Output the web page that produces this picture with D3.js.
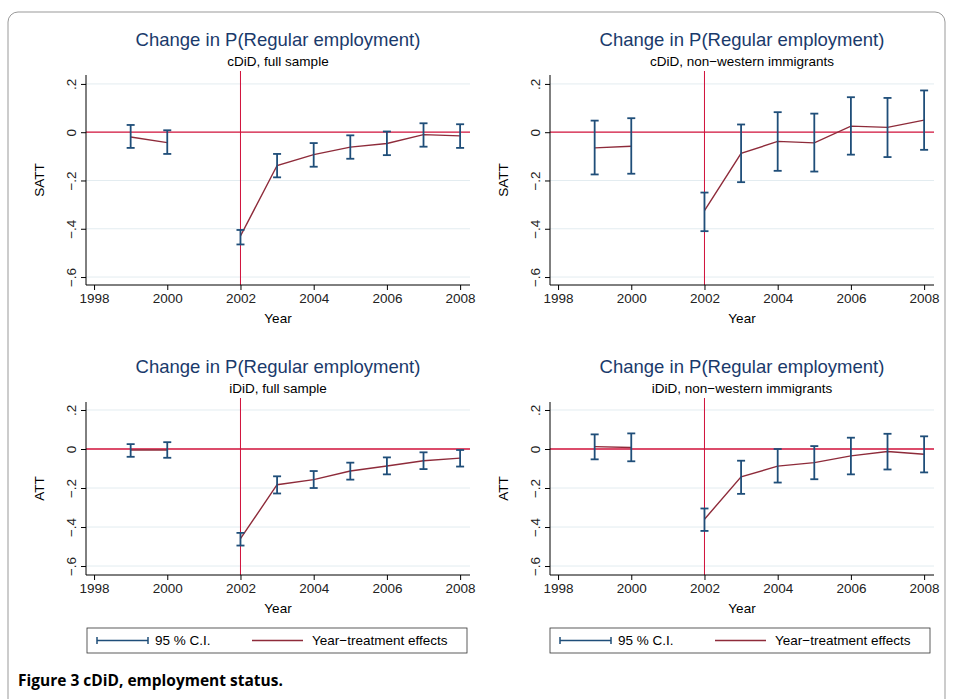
<!DOCTYPE html>
<html><head><meta charset="utf-8">
<script src="https://cdn.jsdelivr.net/npm/d3@7"></script>
<style>body{margin:0;background:#fff}svg text{font-family:"Liberation Sans",Arial,sans-serif}</style>
</head><body>
<svg width="953" height="699"></svg>
<script>
var years = [1999, 2000, 2002, 2003, 2004, 2005, 2006, 2007, 2008];
var yTicks = [0.2, 0, -0.2, -0.4, -0.6];
var xTicks = [1998, 2000, 2002, 2004, 2006, 2008];

// point estimates and 95% CI bounds per panel
var cdidFullEst = [-0.02, -0.043, -0.43, -0.138, -0.093, -0.062, -0.047, -0.01, -0.015];
var cdidFullLo  = [-0.065, -0.09, -0.465, -0.187, -0.143, -0.11, -0.095, -0.06, -0.065];
var cdidFullHi  = [0.03, 0.008, -0.405, -0.09, -0.045, -0.013, 0.003, 0.037, 0.033];

var cdidNwEst = [-0.065, -0.058, -0.325, -0.088, -0.038, -0.044, 0.025, 0.02, 0.05];
var cdidNwLo  = [-0.175, -0.172, -0.41, -0.207, -0.16, -0.163, -0.093, -0.103, -0.073];
var cdidNwHi  = [0.048, 0.058, -0.25, 0.032, 0.083, 0.077, 0.145, 0.142, 0.173];

var ididFullEst = [-0.005, -0.005, -0.46, -0.183, -0.157, -0.113, -0.087, -0.06, -0.047];
var ididFullLo  = [-0.04, -0.045, -0.495, -0.228, -0.2, -0.157, -0.13, -0.103, -0.09];
var ididFullHi  = [0.025, 0.035, -0.43, -0.14, -0.113, -0.07, -0.043, -0.017, -0.005];

var ididNwEst = [0.012, 0.008, -0.36, -0.143, -0.088, -0.07, -0.035, -0.013, -0.027];
var ididNwLo  = [-0.053, -0.063, -0.42, -0.23, -0.172, -0.155, -0.13, -0.105, -0.12];
var ididNwHi  = [0.075, 0.08, -0.305, -0.06, 0.0, 0.015, 0.058, 0.078, 0.065];

var svg = d3.select("svg");
var navy = "#1f4e79", maroon = "#8e2b3a", red = "#d0103a";

// outer frame and caption
svg.append("rect").attr("x", 8).attr("y", 12).attr("width", 937).attr("height", 700)
  .attr("rx", 10).attr("fill", "none").attr("stroke", "#999").attr("stroke-width", 1);
svg.append("text").attr("x", 18).attr("y", 686).style("font-family", "'Open Sans',sans-serif")
  .attr("font-weight", "bold").attr("font-size", 15.5).text("Figure 3 cDiD, employment status.");

var panels = [
  {x0: 86, x1: 470, y0: 75, y1: 285, yMax: 0.237, yMin: -0.633, sub: "cDiD, full sample", ylab: "SATT", est: cdidFullEst, lo: cdidFullLo, hi: cdidFullHi},
  {x0: 550, x1: 934, y0: 75, y1: 285, yMax: 0.237, yMin: -0.633, sub: "cDiD, non\u2212western immigrants", ylab: "SATT", est: cdidNwEst, lo: cdidNwLo, hi: cdidNwHi},
  {x0: 86, x1: 470, y0: 402, y1: 575, yMax: 0.241, yMin: -0.646, sub: "iDiD, full sample", ylab: "ATT", est: ididFullEst, lo: ididFullLo, hi: ididFullHi},
  {x0: 550, x1: 934, y0: 402, y1: 575, yMax: 0.241, yMin: -0.646, sub: "iDiD, non\u2212western immigrants", ylab: "ATT", est: ididNwEst, lo: ididNwLo, hi: ididNwHi}
];

panels.forEach(function(p) {
  var x = d3.scaleLinear().domain([1997.78, 2008.27]).range([p.x0, p.x1]);
  var y = d3.scaleLinear().domain([p.yMin, p.yMax]).range([p.y1, p.y0]);
  var g = svg.append("g");
  var cx = (p.x0 + p.x1) / 2;

  g.append("text").attr("x", cx).attr("y", p.y0 - 29).attr("text-anchor", "middle")
    .attr("font-size", 18.5).attr("fill", "#1a3a6b").text("Change in P(Regular employment)");
  g.append("text").attr("x", cx).attr("y", p.y0 - 9).attr("text-anchor", "middle")
    .attr("font-size", 13.5).text(p.sub);

  // grid lines
  g.selectAll(".grid").data(yTicks.filter(function(d) { return d !== 0; })).enter().append("line")
    .attr("x1", p.x0).attr("x2", p.x1).attr("y1", y).attr("y2", y)
    .attr("stroke", "#e3ecf0").attr("stroke-width", 1);

  // reference lines
  g.append("line").attr("x1", p.x0).attr("x2", p.x1).attr("y1", y(0)).attr("y2", y(0))
    .attr("stroke", red).attr("stroke-width", 1.3);
  g.append("line").attr("x1", x(2002)).attr("x2", x(2002)).attr("y1", p.y0 - 4).attr("y2", p.y1)
    .attr("stroke", red).attr("stroke-width", 1);

  // axes
  var ax = g.append("g").attr("transform", "translate(0," + p.y1 + ")")
    .call(d3.axisBottom(x).tickValues(xTicks).tickFormat(d3.format("d")).tickSize(5).tickSizeOuter(0));
  ax.select(".domain").attr("d", "M" + p.x0 + ",0H" + p.x1);
  ax.selectAll("text").attr("font-size", 13.5).attr("font-family", null);
  var ay = g.append("g").attr("transform", "translate(" + p.x0 + ",0)")
    .call(d3.axisLeft(y).tickValues(yTicks).tickSize(5).tickSizeOuter(0)
      .tickFormat(function(d) { return d === 0 ? "0" : d3.format(".1f")(d).replace("0.", ".").replace("-", "\u2212"); }));
  ay.select(".domain").attr("d", "M0," + p.y0 + "V" + p.y1);
  ay.selectAll("text").attr("font-size", 13.5).attr("font-family", null)
    .attr("text-anchor", "middle").attr("x", 0).attr("y", 0).attr("dy", "0")
    .attr("transform", "translate(-10,0) rotate(-90)");
  g.selectAll(".tick text").attr("fill", "#222");

  g.append("text").attr("x", cx).attr("y", p.y1 + 38).attr("text-anchor", "middle")
    .attr("font-size", 13.5).text("Year");
  g.append("text").attr("transform", "translate(" + (p.x0 - 42) + "," + ((p.y0 + p.y1) / 2) + ") rotate(-90)")
    .attr("text-anchor", "middle").attr("font-size", 13.5).text(p.ylab);

  // estimate line (pre and post segments)
  var line = d3.line().x(function(d) { return x(d.yr); }).y(function(d) { return y(d.e); });
  var pts = years.map(function(yr, i) { return {yr: yr, e: p.est[i], lo: p.lo[i], hi: p.hi[i]}; });
  g.append("path").attr("d", line(pts.filter(function(d) { return d.yr < 2002; })))
    .attr("fill", "none").attr("stroke", maroon).attr("stroke-width", 1.4);
  g.append("path").attr("d", line(pts.filter(function(d) { return d.yr >= 2002; })))
    .attr("fill", "none").attr("stroke", maroon).attr("stroke-width", 1.4);

  // CI bars
  var ci = g.selectAll(".ci").data(pts).enter().append("g").attr("stroke", navy).attr("stroke-width", 1.8);
  ci.append("line").attr("x1", function(d) { return x(d.yr); }).attr("x2", function(d) { return x(d.yr); })
    .attr("y1", function(d) { return y(d.lo); }).attr("y2", function(d) { return y(d.hi); });
  ci.append("line").attr("x1", function(d) { return x(d.yr) - 4; }).attr("x2", function(d) { return x(d.yr) + 4; })
    .attr("y1", function(d) { return y(d.lo); }).attr("y2", function(d) { return y(d.lo); });
  ci.append("line").attr("x1", function(d) { return x(d.yr) - 4; }).attr("x2", function(d) { return x(d.yr) + 4; })
    .attr("y1", function(d) { return y(d.hi); }).attr("y2", function(d) { return y(d.hi); });
});

// legends
[87, 550].forEach(function(lx) {
  var lg = svg.append("g").attr("transform", "translate(" + lx + ",628)");
  lg.append("rect").attr("width", 380).attr("height", 25).attr("fill", "#fff").attr("stroke", "#333").attr("stroke-width", 0.8);
  lg.append("line").attr("x1", 10).attr("x2", 61).attr("y1", 12.5).attr("y2", 12.5).attr("stroke", navy).attr("stroke-width", 1.5);
  lg.append("line").attr("x1", 10).attr("x2", 10).attr("y1", 9).attr("y2", 16).attr("stroke", navy).attr("stroke-width", 1.5);
  lg.append("line").attr("x1", 61).attr("x2", 61).attr("y1", 9).attr("y2", 16).attr("stroke", navy).attr("stroke-width", 1.5);
  lg.append("text").attr("x", 68).attr("y", 17).attr("font-size", 13.5).text("95 % C.I.");
  lg.append("line").attr("x1", 165).attr("x2", 216).attr("y1", 12.5).attr("y2", 12.5).attr("stroke", maroon).attr("stroke-width", 1.5);
  lg.append("text").attr("x", 225).attr("y", 17).attr("font-size", 13.5).text("Year\u2212treatment effects");
});
</script>
</body></html>
